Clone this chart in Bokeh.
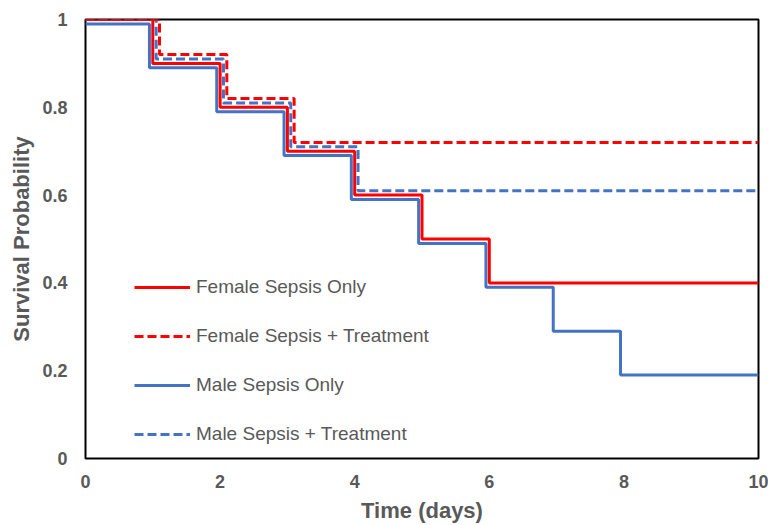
from bokeh.plotting import figure
from bokeh.models import Legend, LegendItem, FixedTicker, Range1d
from bokeh.embed import file_html
from bokeh.resources import INLINE

# Data
female_only_t = [0, 1, 2, 3, 4, 5, 6, 10]
female_only_s = [1.0, 0.90, 0.80, 0.70, 0.60, 0.50, 0.40, 0.40]

female_treat_t = [0, 1.1, 2.1, 3.1, 10]
female_treat_s = [1.0, 0.92, 0.82, 0.72, 0.72]

male_only_t = [0, 0.95, 1.95, 2.95, 3.95, 4.95, 5.95, 6.95, 7.95, 10]
male_only_s = [0.99, 0.89, 0.79, 0.69, 0.59, 0.49, 0.39, 0.29, 0.19, 0.19]

male_treat_t = [0, 1.05, 2.05, 3.05, 4.05, 10]
male_treat_s = [1.0, 0.91, 0.81, 0.71, 0.61, 0.61]

x_ticks = [0, 2, 4, 6, 8, 10]
y_ticks = [0, 0.2, 0.4, 0.6, 0.8, 1.0]
y_tick_labels = ["0", "0.2", "0.4", "0.6", "0.8", "1"]

RED = "#FF0000"
BLUE = "#4472C4"
GRAY = "#595959"
FONT = "Liberation Sans"

p = figure(width=768, height=525, output_backend="svg", toolbar_location=None,
           x_range=Range1d(0, 10), y_range=Range1d(0, 1),
           min_border_left=85, min_border_right=10, min_border_top=19, min_border_bottom=66)

r_mo = p.step(male_only_t, male_only_s, mode="after", line_color=BLUE, line_width=3)
r_fo = p.step(female_only_t, female_only_s, mode="after", line_color=RED, line_width=3)
r_mt = p.step(male_treat_t, male_treat_s, mode="after", line_color=BLUE, line_width=3, line_dash="9 4")
r_ft = p.step(female_treat_t, female_treat_s, mode="after", line_color=RED, line_width=3, line_dash="9 4")

legend = Legend(items=[
    LegendItem(label="Female Sepsis Only", renderers=[r_fo]),
    LegendItem(label="Female Sepsis + Treatment", renderers=[r_ft]),
    LegendItem(label="Male Sepsis Only", renderers=[r_mo]),
    LegendItem(label="Male Sepsis + Treatment", renderers=[r_mt]),
], location=(49, 13))
legend.background_fill_alpha = 0
legend.border_line_color = None
legend.padding = 0
legend.margin = 0
legend.glyph_width = 56
legend.glyph_height = 20
legend.label_height = 20
legend.spacing = 27
legend.label_standoff = 6
legend.label_text_font = FONT
legend.label_text_font_size = "19px"
legend.label_text_color = GRAY
p.add_layout(legend, "center")

p.xgrid.visible = False
p.ygrid.visible = False
p.outline_line_color = "black"
p.outline_line_width = 2
p.outline_line_alpha = 1

p.xaxis.ticker = FixedTicker(ticks=x_ticks)
p.yaxis.ticker = FixedTicker(ticks=y_ticks)
p.yaxis.major_label_overrides = {t: l for t, l in zip(y_ticks, y_tick_labels)}
p.xaxis.major_label_overrides = {t: str(t) for t in x_ticks}

for ax in (p.xaxis, p.yaxis):
    ax.axis_line_color = None
    ax.major_tick_line_color = None
    ax.minor_tick_line_color = None
    ax.major_tick_out = 0
    ax.major_tick_in = 0
    ax.major_label_text_font = FONT
    ax.major_label_text_font_style = "bold"
    ax.major_label_text_font_size = "18px"
    ax.major_label_text_color = GRAY
    ax.axis_label_text_font = FONT
    ax.axis_label_text_font_style = "bold"
    ax.axis_label_text_font_size = "22px"
    ax.axis_label_text_color = GRAY

p.xaxis.axis_label = "Time (days)"
p.yaxis.axis_label = "Survival Probability"
p.xaxis.major_label_standoff = 16
p.yaxis.major_label_standoff = 18
p.xaxis.axis_label_standoff = 7
p.yaxis.axis_label_standoff = 5

open("out.html", "w").write(file_html(p, INLINE))
